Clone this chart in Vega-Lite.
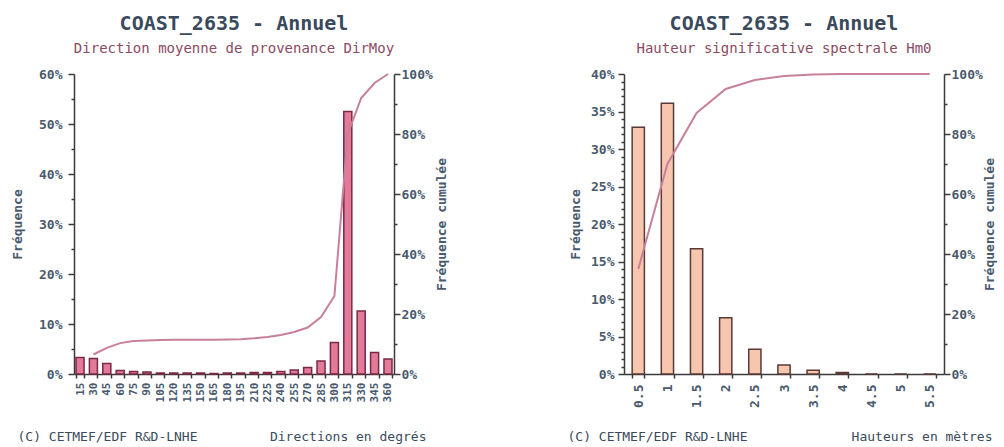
{
  "$schema": "https://vega.github.io/schema/vega-lite/v6.json",
  "padding": {"left": 11, "top": 14, "right": 2, "bottom": 2},
  "background": "white",
  "spacing": 118,
  "datasets": {
    "dir": [
      {"dir": 15, "freq": 3.3, "cum": null},
      {"dir": 30, "freq": 3.1, "cum": 6.5},
      {"dir": 45, "freq": 2.1, "cum": 8.7},
      {"dir": 60, "freq": 0.7, "cum": 10.3},
      {"dir": 75, "freq": 0.5, "cum": 11.0},
      {"dir": 90, "freq": 0.4, "cum": 11.2},
      {"dir": 105, "freq": 0.2, "cum": 11.3},
      {"dir": 120, "freq": 0.2, "cum": 11.4},
      {"dir": 135, "freq": 0.2, "cum": 11.4},
      {"dir": 150, "freq": 0.2, "cum": 11.4},
      {"dir": 165, "freq": 0.1, "cum": 11.4},
      {"dir": 180, "freq": 0.2, "cum": 11.5},
      {"dir": 195, "freq": 0.2, "cum": 11.6},
      {"dir": 210, "freq": 0.3, "cum": 11.9},
      {"dir": 225, "freq": 0.3, "cum": 12.3},
      {"dir": 240, "freq": 0.5, "cum": 13.0},
      {"dir": 255, "freq": 0.8, "cum": 14.0},
      {"dir": 270, "freq": 1.3, "cum": 15.5},
      {"dir": 285, "freq": 2.6, "cum": 19.0},
      {"dir": 300, "freq": 6.3, "cum": 26.0},
      {"dir": 315, "freq": 52.5, "cum": 80.0},
      {"dir": 330, "freq": 12.6, "cum": 92.0},
      {"dir": 345, "freq": 4.3, "cum": 97.0},
      {"dir": 360, "freq": 3.0, "cum": 100.0}
    ],
    "hm0": [
      {"h": 0.5, "freq": 32.9, "cum": 35},
      {"h": 1, "freq": 36.1, "cum": 70},
      {"h": 1.5, "freq": 16.7, "cum": 87},
      {"h": 2, "freq": 7.5, "cum": 95},
      {"h": 2.5, "freq": 3.3, "cum": 98},
      {"h": 3, "freq": 1.2, "cum": 99.3},
      {"h": 3.5, "freq": 0.5, "cum": 99.8},
      {"h": 4, "freq": 0.2, "cum": 100},
      {"h": 4.5, "freq": 0, "cum": 100},
      {"h": 5, "freq": 0, "cum": 100},
      {"h": 5.5, "freq": 0, "cum": 100}
    ]
  },
  "config": {
    "font": "DejaVu Sans Mono",
    "view": {"stroke": null},
    "axis": {
      "grid": false,
      "labelFont": "DejaVu Sans Mono",
      "labelFontWeight": "bold",
      "labelFontSize": 13,
      "labelColor": "#4a5a6e",
      "titleFont": "DejaVu Sans Mono",
      "titleFontWeight": "bold",
      "titleFontSize": 13,
      "titleColor": "#4a5a6e",
      "domainColor": "#3a3a3a",
      "domainWidth": 1.5,
      "tickColor": "#3a3a3a",
      "tickWidth": 1.5
    },
    "title": {
      "font": "DejaVu Sans Mono",
      "fontSize": 20,
      "fontWeight": "bold",
      "color": "#3a4a5c",
      "subtitleFont": "DejaVu Sans Mono",
      "subtitleFontSize": 14,
      "subtitleFontWeight": "normal",
      "subtitleColor": "#8b4a64",
      "subtitlePadding": 8,
      "offset": 12,
      "anchor": "middle",
      "frame": "group"
    }
  },
  "hconcat": [
    {
      "width": 320,
      "height": 300,
      "title": {"text": "COAST_2635 - Annuel", "subtitle": "Direction moyenne de provenance DirMoy"},
      "data": {"name": "dir"},
      "layer": [
        {
          "mark": {"type": "bar", "fill": "#e27a98", "stroke": "#7a2846", "strokeWidth": 1.5},
          "encoding": {
            "x": {
              "field": "dir", "type": "ordinal",
              "scale": {"paddingInner": 0.4, "paddingOuter": 0.15},
              "axis": {
                "labelAngle": 270, "labelAlign": "right", "labelBaseline": "middle",
                "labelFontSize": 11, "labelPadding": 4, "labelOverlap": false,
                "tickBand": "extent", "tickSize": 4,
                "title": "Directions en degrés", "titleFontWeight": "normal", "titleColor": "#3a4a5c",
                "titleAlign": "right", "titleBaseline": "alphabetic", "titleX": 352, "titleY": 66
              }
            },
            "y": {
              "field": "freq", "type": "quantitative",
              "scale": {"domain": [0, 60]},
              "axis": {
                "values": [0, 5, 10, 15, 20, 25, 30, 35, 40, 45, 50, 55, 60],
                "labelExpr": "datum.value % 10 === 0 ? datum.value + '%' : ''",
                "tickSize": {"condition": {"test": "datum.value % 10 === 0", "value": 6}, "value": 3},
                "labelPadding": 6,
                "title": "Fréquence", "titlePadding": 14
              }
            }
          }
        },
        {
          "mark": {"type": "line", "color": "#c8809a", "strokeWidth": 2},
          "encoding": {
            "x": {
              "field": "dir", "type": "ordinal",
              "axis": {
                "orient": "bottom", "labels": false, "ticks": false, "domain": false,
                "title": "(C) CETMEF/EDF R&D-LNHE", "titleFontWeight": "normal", "titleColor": "#3a4a5c",
                "titleAlign": "left", "titleBaseline": "alphabetic", "titleX": -57, "titleY": 66
              }
            },
            "y": {
              "field": "cum", "type": "quantitative",
              "scale": {"domain": [0, 100]},
              "axis": {
                "orient": "right",
                "values": [0, 10, 20, 30, 40, 50, 60, 70, 80, 90, 100],
                "labelExpr": "datum.value % 20 === 0 ? datum.value + '%' : ''",
                "tickSize": {"condition": {"test": "datum.value % 20 === 0", "value": 6}, "value": 3},
                "labelPadding": 1,
                "title": "Fréquence cumulée", "titleAngle": 270, "titleBaseline": "top", "titlePadding": 3
              }
            }
          }
        }
      ],
      "resolve": {"scale": {"y": "independent"}, "axis": {"x": "independent"}}
    },
    {
      "width": 320,
      "height": 300,
      "title": {"text": "COAST_2635 - Annuel", "subtitle": "Hauteur significative spectrale Hm0"},
      "data": {"name": "hm0"},
      "layer": [
        {
          "mark": {"type": "bar", "fill": "#f7c6ae", "stroke": "#5a3a35", "strokeWidth": 1.5},
          "encoding": {
            "x": {
              "field": "h", "type": "ordinal",
              "scale": {"paddingInner": 0.58, "paddingOuter": 0.28},
              "axis": {
                "labelAngle": 270, "labelAlign": "right", "labelBaseline": "middle",
                "labelFontSize": 13, "labelPadding": 6, "labelOverlap": false,
                "tickBand": "extent", "tickSize": 4,
                "title": "Hauteurs en mètres", "titleFontWeight": "normal", "titleColor": "#3a4a5c",
                "titleAlign": "right", "titleBaseline": "alphabetic", "titleX": 368, "titleY": 66
              }
            },
            "y": {
              "field": "freq", "type": "quantitative",
              "scale": {"domain": [0, 40]},
              "axis": {
                "values": [0, 1, 2, 3, 4, 5, 6, 7, 8, 9, 10, 11, 12, 13, 14, 15, 16, 17, 18, 19, 20, 21, 22, 23, 24, 25, 26, 27, 28, 29, 30, 31, 32, 33, 34, 35, 36, 37, 38, 39, 40],
                "labelExpr": "datum.value % 5 === 0 ? datum.value + '%' : ''",
                "tickSize": {"condition": {"test": "datum.value % 5 === 0", "value": 6}, "value": 3},
                "labelPadding": 4,
                "title": "Fréquence", "titlePadding": 8
              }
            }
          }
        },
        {
          "mark": {"type": "line", "color": "#c8809a", "strokeWidth": 2},
          "encoding": {
            "x": {
              "field": "h", "type": "ordinal",
              "axis": {
                "orient": "bottom", "labels": false, "ticks": false, "domain": false,
                "title": "(C) CETMEF/EDF R&D-LNHE", "titleFontWeight": "normal", "titleColor": "#3a4a5c",
                "titleAlign": "left", "titleBaseline": "alphabetic", "titleX": -57, "titleY": 66
              }
            },
            "y": {
              "field": "cum", "type": "quantitative",
              "scale": {"domain": [0, 100]},
              "axis": {
                "orient": "right",
                "values": [0, 10, 20, 30, 40, 50, 60, 70, 80, 90, 100],
                "labelExpr": "datum.value % 20 === 0 ? datum.value + '%' : ''",
                "tickSize": {"condition": {"test": "datum.value % 20 === 0", "value": 6}, "value": 3},
                "labelPadding": 1,
                "title": "Fréquence cumulée", "titleAngle": 270, "titleBaseline": "top", "titlePadding": 1
              }
            }
          }
        }
      ],
      "resolve": {"scale": {"y": "independent"}, "axis": {"x": "independent"}}
    }
  ]
}
